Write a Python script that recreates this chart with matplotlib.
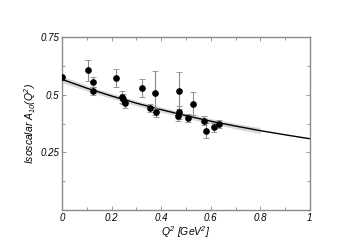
import matplotlib
matplotlib.use("Agg")
import matplotlib.pyplot as plt
from matplotlib.ticker import FixedLocator

plt.rcParams['font.family'] = ['Liberation Sans', 'DejaVu Sans']
plt.rcParams['font.style'] = 'italic'
plt.rcParams['mathtext.fontset'] = 'custom'
plt.rcParams['mathtext.rm'] = 'Liberation Sans:italic'
plt.rcParams['mathtext.it'] = 'Liberation Sans:italic'

# data points
q2 = [0.0, 0.105, 0.124, 0.124, 0.216, 0.243, 0.245, 0.254, 0.324, 0.356,
      0.374, 0.378, 0.470, 0.470, 0.468, 0.508, 0.530, 0.574, 0.579, 0.613, 0.633]
a10 = [0.575, 0.605, 0.555, 0.516, 0.572, 0.491, 0.481, 0.462, 0.529, 0.442,
       0.509, 0.423, 0.517, 0.423, 0.406, 0.400, 0.460, 0.387, 0.344, 0.358, 0.374]
a10_err = [0.004, 0.045, 0.022, 0.017, 0.038, 0.025, 0.02, 0.018, 0.039, 0.017,
           0.095, 0.02, 0.08, 0.03, 0.02, 0.018, 0.05, 0.02, 0.032, 0.02, 0.018]

# fitted curve
curve_q2 = [0.0, 0.1, 0.2, 0.3, 0.4, 0.5, 0.6, 0.7, 0.8, 0.9, 1.0]
curve_a10 = [0.566, 0.528, 0.494, 0.463, 0.435, 0.409, 0.385, 0.364, 0.344, 0.326, 0.309]

# uncertainty band (only up to 0.8)
band_q2 = [0.0, 0.1, 0.2, 0.3, 0.4, 0.5, 0.6, 0.7, 0.8]
band_lo = [0.552, 0.516, 0.483, 0.452, 0.424, 0.398, 0.374, 0.352, 0.331]
band_hi = [0.580, 0.540, 0.505, 0.474, 0.446, 0.420, 0.396, 0.376, 0.357]

xticks = [0, 0.2, 0.4, 0.6, 0.8, 1.0]
xtick_labels = ['0', '0.2', '0.4', '0.6', '0.8', '1']
yticks = [0.25, 0.5, 0.75]
ytick_labels = ['0.25', '0.5', '0.75']

fig = plt.figure(figsize=(3.51, 2.48), dpi=100)
ax = fig.add_axes([0.177, 0.153, 0.706, 0.698])

ax.fill_between(band_q2, band_lo, band_hi, color='#d8d8d8', lw=0, zorder=1)
ax.plot(curve_q2, curve_a10, color='black', lw=1.0, zorder=2)
ax.errorbar(q2, a10, yerr=a10_err, fmt='o', color='black', ms=3.8,
            ecolor='#8a8a8a', elinewidth=0.8, capsize=2, capthick=0.6, zorder=3)

ax.set_xlim(0, 1)
ax.set_ylim(0, 0.75)
ax.set_xticks(xticks)
ax.set_xticklabels(xtick_labels)
ax.set_yticks(yticks)
ax.set_yticklabels(ytick_labels)
ax.xaxis.set_minor_locator(FixedLocator([0.1, 0.3, 0.5, 0.7, 0.9]))
ax.yaxis.set_minor_locator(FixedLocator([0.125, 0.375, 0.625]))

ax.tick_params(which='both', direction='in', top=True, right=True,
               color='#8a8a8a', labelsize=7, pad=2)
ax.tick_params(which='major', length=3, width=0.6)
ax.tick_params(which='minor', length=2, width=0.6)
for s in ax.spines.values():
    s.set_color('#8a8a8a')
    s.set_linewidth(1.0)

ax.set_xlabel('$Q^2$ [GeV$^2$]', fontsize=7.5, labelpad=1)
ax.set_ylabel('Isoscalar $A_{10}(Q^2)$', fontsize=7.5, labelpad=2)

plt.savefig('out.png', dpi=100)
